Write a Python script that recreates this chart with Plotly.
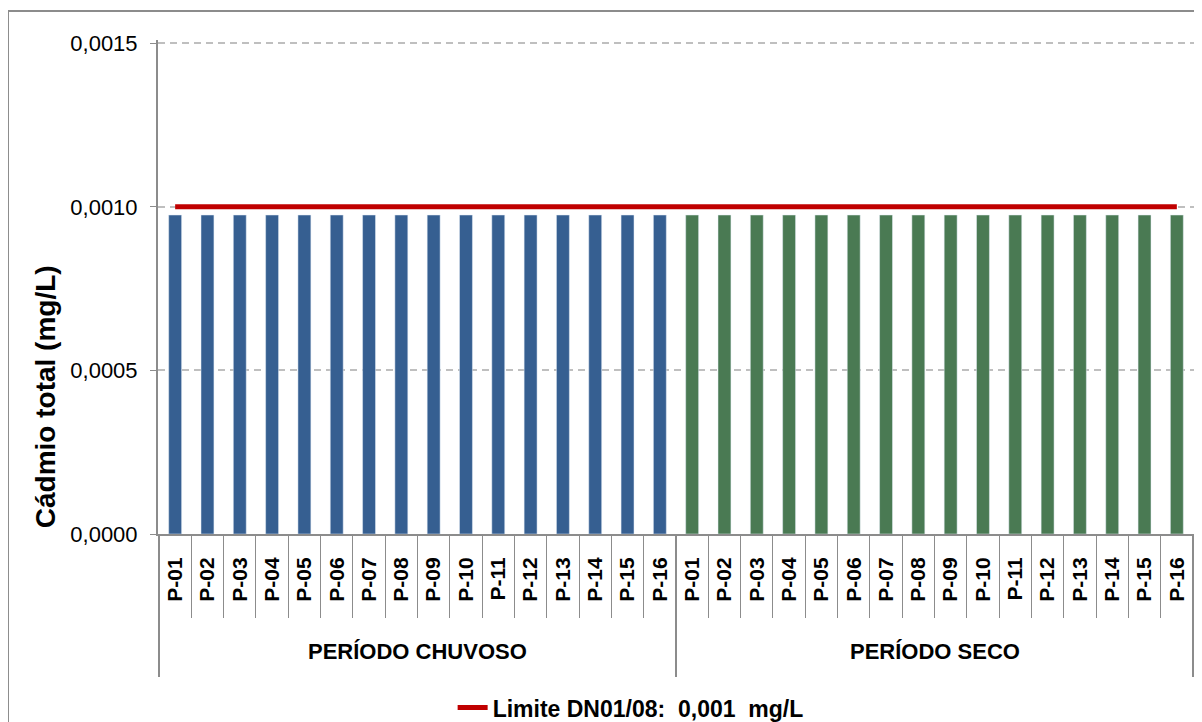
import plotly.graph_objects as go

periodos = ["PERÍODO CHUVOSO", "PERÍODO SECO"]
pontos = ["P-01", "P-02", "P-03", "P-04", "P-05", "P-06", "P-07", "P-08",
          "P-09", "P-10", "P-11", "P-12", "P-13", "P-14", "P-15", "P-16"]
cadmio_chuvoso = [0.000975] * 16
cadmio_seco = [0.000975] * 16
limite = 0.001

cor_chuvoso = "#365F91"
cor_seco = "#4A7A53"
cinza = "#8C8C8C"
fonte = "Liberation Sans, Arial, sans-serif"

n = len(pontos)
# categorias unicas por periodo, o rotulo mostrado e so o ponto
cat_chuvoso = [periodos[0] + " " + p for p in pontos]
cat_seco = [periodos[1] + " " + p for p in pontos]
categorias = cat_chuvoso + cat_seco

fig = go.Figure()
fig.add_trace(go.Bar(x=cat_chuvoso, y=cadmio_chuvoso, marker_color=cor_chuvoso, showlegend=False))
fig.add_trace(go.Bar(x=cat_seco, y=cadmio_seco, marker_color=cor_seco, showlegend=False))
fig.add_trace(go.Scatter(
    x=categorias,
    y=[limite] * len(categorias),
    mode="lines",
    name="Limite DN01/08:  0,001  mg/L",
    line=dict(color="#C00000", width=5),
))

# rotulos dos periodos e divisorias
for i, periodo in enumerate(periodos):
    fig.add_annotation(
        x=i * n + (n - 1) / 2, y=-0.237, xref="x", yref="paper",
        text="<b>" + periodo + "</b>", showarrow=False,
        font=dict(size=22, family=fonte, color="black"), yanchor="middle",
    )
for i in range(len(periodos) + 1):
    fig.add_shape(
        type="line", xref="x", yref="paper",
        x0=i * n - 0.5, x1=i * n - 0.5, y0=0, y1=-0.2895,
        line=dict(color=cinza, width=2),
    )

# titulo do eixo y (mais abaixo que o centro, como no original)
fig.add_annotation(
    x=-0.109, y=0.277, xref="paper", yref="paper",
    text="<b>Cádmio total (mg/L)</b>", textangle=-90, showarrow=False,
    font=dict(size=28, family=fonte, color="black"),
    xanchor="center", yanchor="middle",
)

# a pagina tem 8px de margem no body
fig.update_layout(
    width=1202, height=722,
    margin=dict(l=150, r=16, t=32, b=196),
    plot_bgcolor="white",
    paper_bgcolor="white",
    separators=",.",
    bargap=0.6,
    font=dict(family=fonte, color="black"),
    legend=dict(
        orientation="h", xref="container", yref="container",
        x=0.518, xanchor="center", y=0.031, yanchor="middle",
        font=dict(size=23, family=fonte, weight="bold"),
    ),
)
fig.add_shape(
    type="rect", xref="paper", yref="paper",
    x0=-0.1448, x1=1.1, y0=-0.6, y1=1.0587,
    line=dict(color=cinza, width=2),
)
fig.update_yaxes(
    range=[0, 0.00151], tickvals=[0, 0.0005, 0.0010, 0.0015], tickformat=".4f",
    automargin=False,
    showline=True, linecolor=cinza, linewidth=2,
    ticks="outside", ticklen=6, tickcolor=cinza, ticklabelstandoff=8,
    showgrid=True, gridcolor="#BFBFBF", griddash="7px,5px", gridwidth=2,
    zeroline=False,
    tickfont=dict(size=22),
)
fig.update_xaxes(
    type="category", categoryorder="array", categoryarray=categorias,
    tickvals=categorias, ticktext=pontos + pontos,
    automargin=False,
    showline=True, linecolor=cinza, linewidth=2,
    ticks="outside", ticklen=82, tickcolor=cinza, tickson="boundaries",
    ticklabelstandoff=13,
    tickangle=-90,
    tickfont=dict(size=21, weight="bold"),
)

fig.write_html("out.html")
